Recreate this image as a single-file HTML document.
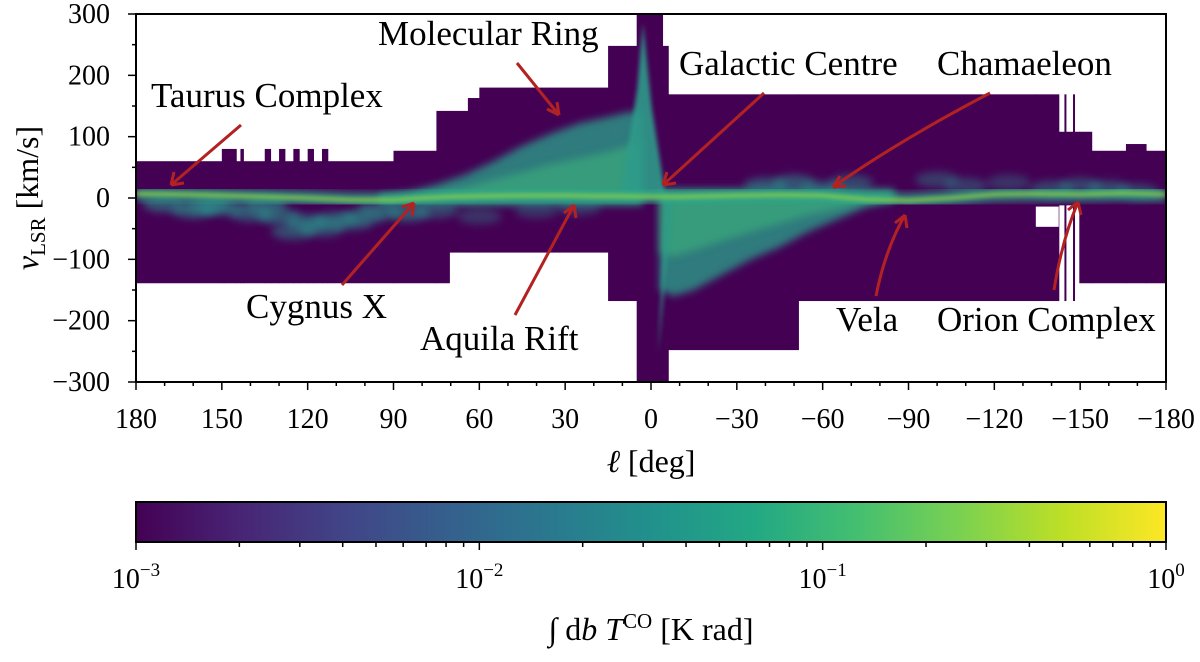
<!DOCTYPE html>
<html><head><meta charset="utf-8"><style>
body{margin:0;background:#fff;}
svg, svg text{font-family:"Liberation Serif","Times New Roman",serif;}
svg text{fill:#000;}
</style></head><body>
<svg id="fig" width="1200" height="657" viewBox="0 0 1200 657" xmlns="http://www.w3.org/2000/svg">
<defs>
<filter id="blur2" x="-20%" y="-50%" width="140%" height="200%"><feGaussianBlur stdDeviation="2"/></filter>
<filter id="blur4" x="-20%" y="-50%" width="140%" height="200%"><feGaussianBlur stdDeviation="4"/></filter>
<linearGradient id="viridis" x1="0" x2="1" y1="0" y2="0">
<stop offset="0" stop-color="#440154"/><stop offset="0.1" stop-color="#482475"/><stop offset="0.2" stop-color="#414487"/><stop offset="0.3" stop-color="#355f8d"/><stop offset="0.4" stop-color="#2a788e"/><stop offset="0.5" stop-color="#21918c"/><stop offset="0.6" stop-color="#22a884"/><stop offset="0.7" stop-color="#44bf70"/><stop offset="0.8" stop-color="#7ad151"/><stop offset="0.9" stop-color="#bddf26"/><stop offset="1" stop-color="#fde725"/>
</linearGradient>
<clipPath id="plotclip"><rect x="136" y="14" width="1030" height="368"/></clipPath>
</defs>
<g id="coverage" clip-path="url(#plotclip)"></g>
<g id="emission" clip-path="url(#plotclip)"></g>
<g id="axes"></g>
</svg>
<script>
// coverage columns (longitude edges, velocity extents)
const covL1 = [180,150,149,145,143.5,142.5,135,133,130,128,125,123,120,118,115,113,90,75,70.5,64,60,15,5,-4,-6,-51.5,-134.5,-142.5,-149.7,-154,-166,-173];
const covL2 = [150,149,145,143.5,142.5,135,133,130,128,125,123,120,118,115,113,90,75,70.5,64,60,15,5,-4,-6,-51.5,-134.5,-142.5,-149.7,-154,-166,-173,-180];
const covTop= [60,80,80,60,80,60,80,60,80,60,80,60,80,60,80,60,77,142,142,163,180,248,300,248,169,169,169,108,108,77,88,77];
const covBot= [-139,-139,-139,-139,-139,-139,-139,-139,-139,-139,-139,-139,-139,-139,-139,-139,-139,-139,-89,-89,-89,-168,-300,-300,-248,-168,-168,-12,-139,-139,-139,-139];
// ridge (brightest local gas)
const ridgeL=[180,165,150,135,120,105,90,80,70,60,45,30,20,10,0,-10,-20,-30,-45,-60,-75,-90,-105,-120,-135,-150,-165,-180];
const ridgeV=[7,6,4,2,0,-3,-3,0,2,3,4,4,3,3,2,2,3,4,5,4,-2,-4,0,6,7,6,8,6];
// molecular ring upper envelope (1st quadrant)
const ringL=[95,85,75,65,55,45,35,25,15,8,3];
const ringTop=[5,10,22,38,60,85,105,122,132,140,140];
const ringInner=[3,5,10,18,30,42,55,65,75,85,90];
// 4th quadrant lower envelope
const q4L=[-3,-8,-15,-25,-35,-45,-55,-65,-75,-85];
const q4Bot=[-150,-160,-150,-125,-100,-80,-55,-35,-15,-5];
const q4Inner=[-90,-95,-85,-70,-55,-42,-28,-18,-8,-3];
// GC spike
const gcL=[2.8,-3.5];
const gcV=[285,-255];
// scattered clouds
const blobL=[170,160,150,140,130,120,110,100,95,85,75,60,40,25,-40,-50,-60,-70,-100,-110,-125,-140,-150,-160,-170,125,115,105,135,155];
const blobV=[-10,-20,-15,-25,-30,-40,-35,-30,-20,-25,-20,-30,-20,-15,20,25,15,25,30,20,25,15,20,15,10,-55,-50,-40,-12,-12];
const blobA=[0.6,0.6,0.6,0.55,0.6,0.65,0.55,0.5,0.55,0.6,0.45,0.35,0.35,0.35,0.55,0.55,0.5,0.45,0.4,0.4,0.35,0.45,0.45,0.5,0.45,0.5,0.5,0.45,0.6,0.6];
// axis ticks
const xTicks=[180,150,120,90,60,30,0,-30,-60,-90,-120,-150,-180];
const yTicks=[300,200,100,0,-100,-200,-300];

const NS="http://www.w3.org/2000/svg";
const X0=136,X1=1166,Y0=14,Y1=382;
function xs(l){return X0+(180-l)/360*(X1-X0);}
function ys(v){return Y0+(300-v)/600*(Y1-Y0);}
function mk(tag,attrs,parent){const e=document.createElementNS(NS,tag);for(const k in attrs)e.setAttribute(k,attrs[k]);parent.appendChild(e);return e;}

const cov=document.getElementById('coverage');
for(let i=0;i<covL1.length;i++){
  const r=mk('rect',{x:xs(covL1[i]),y:ys(covTop[i]),width:xs(covL2[i])-xs(covL1[i])+0.6,height:ys(covBot[i])-ys(covTop[i]),fill:'#440154'},cov);
  
  
}
let n=mk('rect',{x:xs(-134.5),y:ys(-14),width:xs(-142.5)-xs(-134.5),height:ys(-47)-ys(-14),fill:'#fff'},cov);


[-144.5,-147.5].forEach(l=>{const s=mk('rect',{x:xs(l),y:ys(169),width:2,height:ys(-168)-ys(169),fill:'#440154'},cov);
  
  });

const em=document.getElementById('emission');
function wedge(L,A,base,fill,op,name){
  let pts=L.map((l,i)=>xs(l)+','+ys(A[i]));
  for(let i=L.length-1;i>=0;i--)pts.push(xs(L[i])+','+ys(base));
  const p=mk('polygon',{points:pts.join(' '),fill:fill,opacity:op,filter:'url(#blur4)'},em);
  
  
}
wedge(ringL,ringTop,-12,'#2a9a88',0.8,'molecular-ring-emission');
wedge(ringL,ringInner,-5,'#3db77a',0.55,'molecular-ring-core');
wedge(q4L,q4Bot,15,'#2a9a88',0.8,'fourth-quadrant-emission');
wedge(q4L,q4Inner,8,'#3db77a',0.55,'fourth-quadrant-core');
// GC spike
let p=mk('polygon',{points:`${xs(gcL[0]+8)},${ys(0)} ${xs(gcL[0]+2)},${ys(180)} ${xs(gcL[0])},${ys(gcV[0])} ${xs(gcL[0]-3)},${ys(150)} ${xs(gcL[0]-8)},${ys(0)} ${xs(gcL[1]+1)},${ys(gcV[1])} ${xs(gcL[1]-4)},${ys(0)}`,fill:'#2d9b8a',opacity:0.9,filter:'url(#blur2)'},em);


// blobs
blobL.forEach((l,i)=>{const b=mk('ellipse',{cx:xs(l),cy:ys(blobV[i]),rx:22,ry:8,fill:'#2a8f8a',opacity:blobA[i],filter:'url(#blur4)'},em);
  
  });
// ridge
const rp=ridgeL.map((l,i)=>xs(l)+','+ys(ridgeV[i])).join(' ');
let r1=mk('polyline',{points:rp,fill:'none',stroke:'#2fa88a',"stroke-width":14,opacity:0.8,filter:'url(#blur4)'},em);


let r2=mk('polyline',{points:rp,fill:'none',stroke:'#9fd83a',"stroke-width":3,opacity:0.9,filter:'url(#blur2)'},em);



// axes
const ax=document.getElementById('axes');
let fr=mk('rect',{x:X0,y:Y0,width:X1-X0,height:Y1-Y0,fill:'none',stroke:'#000','stroke-width':2},ax);


for(let l=180;l>=-180;l-=10){const big=l%30===0;mk('line',{x1:xs(l),x2:xs(l),y1:Y1,y2:Y1+(big?8:4),stroke:'#000','stroke-width':1.5},ax);}
xTicks.forEach(l=>{const t=mk('text',{x:xs(l),y:428,'font-size':28,'text-anchor':'middle'},ax);
  t.textContent=(l<0?'\u2212'+(-l):l);
  
  });
for(let v=300;v>=-300;v-=50){const big=v%100===0;mk('line',{x1:X0,x2:X0-(big?8:4),y1:ys(v),y2:ys(v),stroke:'#000','stroke-width':1.5},ax);}
yTicks.forEach(v=>{const t=mk('text',{x:110,y:ys(v)+9,'font-size':28,'text-anchor':'end'},ax);
  t.textContent=(v<0?'\u2212'+(-v):v);
  
  });
</script>
<svg style="position:absolute;left:0;top:0" width="1200" height="657">
<defs><linearGradient id="viridis2" x1="0" x2="1" y1="0" y2="0">
<stop offset="0" stop-color="#440154"/><stop offset="0.1" stop-color="#482475"/><stop offset="0.2" stop-color="#414487"/><stop offset="0.3" stop-color="#355f8d"/><stop offset="0.4" stop-color="#2a788e"/><stop offset="0.5" stop-color="#21918c"/><stop offset="0.6" stop-color="#22a884"/><stop offset="0.7" stop-color="#44bf70"/><stop offset="0.8" stop-color="#7ad151"/><stop offset="0.9" stop-color="#bddf26"/><stop offset="1" stop-color="#fde725"/>
</linearGradient></defs>
<text x="651" y="472" font-size="32" text-anchor="middle"><tspan font-style="italic">ℓ</tspan> [deg]</text>
<text transform="translate(38,198) rotate(-90)" font-size="32" text-anchor="middle"><tspan font-style="italic">v</tspan><tspan font-size="21" dy="7">LSR</tspan><tspan dy="-7"> [km/s]</tspan></text>
<g font-size="35">
<text x="151" y="107">Taurus Complex</text>
<text x="378" y="45">Molecular Ring</text>
<text x="679" y="75">Galactic Centre</text>
<text x="937" y="75">Chamaeleon</text>
<text x="246" y="318">Cygnus X</text>
<text x="420" y="350">Aquila Rift</text>
<text x="836" y="331">Vela</text>
<text x="937" y="331">Orion Complex</text>
</g>
<g stroke="#b22222" stroke-width="3" fill="none">
<path d="M241,125 L171,185 M171,185 L174,172 M171,185 L184,183"/>
<path d="M517,63 L559,115 M559,115 L547,109 M559,115 L557,102"/>
<path d="M342,285 L414,203 M414,203 L402,207 M414,203 L412,216"/>
<path d="M515,315 L574,205 M574,205 L564,213 M574,205 L576,218"/>
<path d="M764,93 L663,185 M663,185 L667,172 M663,185 L676,183"/>
<path d="M990,93 Q900,140 833,187 M833,187 L840,176 M833,187 L846,186"/>
<path d="M876,296 Q885,250 905,215 M905,215 L895,223 M905,215 L907,228"/>
<path d="M1054,290 Q1062,240 1078,202 M1078,202 L1068,210 M1078,202 L1081,215"/>
</g>
<rect x="136" y="502" width="1030" height="40" fill="url(#viridis2)" stroke="#000" stroke-width="2"/>
<g id="cbticks"></g>
<text x="651" y="640" font-size="32" text-anchor="middle">∫ d<tspan font-style="italic">b</tspan> <tspan font-style="italic">T</tspan><tspan font-size="21" dy="-12">CO</tspan><tspan dy="12"> [K rad]</tspan></text>
</svg>
<script>
const cbTicks=[-3,-2,-1,0];
(function(){
const NS2="http://www.w3.org/2000/svg";
const g=document.getElementById('cbticks');
function cx(lg){return 136+(lg+3)/3*1030;}
for(let d=-3;d<0;d++){for(let m=2;m<=9;m++){const ln=document.createElementNS(NS2,'line');const x=cx(d+Math.log10(m));
 ln.setAttribute('x1',x);ln.setAttribute('x2',x);ln.setAttribute('y1',542);ln.setAttribute('y2',547);ln.setAttribute('stroke','#000');ln.setAttribute('stroke-width','1.5');g.appendChild(ln);}}
cbTicks.forEach(d=>{const x=cx(d);
 const ln=document.createElementNS(NS2,'line');ln.setAttribute('x1',x);ln.setAttribute('x2',x);ln.setAttribute('y1',542);ln.setAttribute('y2',550);ln.setAttribute('stroke','#000');ln.setAttribute('stroke-width','1.5');g.appendChild(ln);
 const t=document.createElementNS(NS2,'text');
 
 
 t.setAttribute('x',x);t.setAttribute('y',588);t.setAttribute('font-size','28');t.setAttribute('text-anchor','middle');
 t.innerHTML='10<tspan font-size="19" dy="-12">'+(d<0?'\u2212'+(-d):d)+'</tspan>';
 g.appendChild(t);});
})();
</script>
</body></html>
